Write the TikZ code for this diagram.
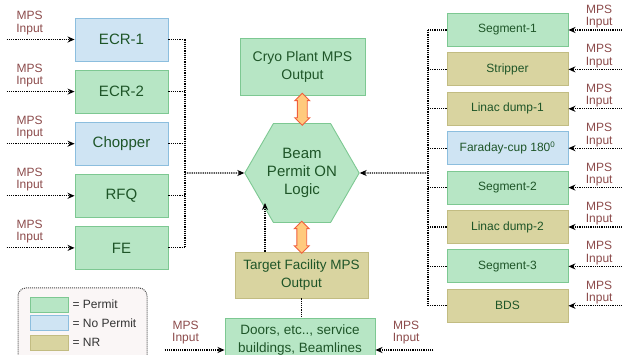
\documentclass[tikz,border=0pt]{standalone}
\usepackage{fontspec}
\setmainfont{Liberation Sans}
\usetikzlibrary{positioning, calc, shapes.geometric, shapes.arrows, arrows.meta}

\definecolor{permitFill}{RGB}{183,230,197}
\definecolor{permitLine}{RGB}{125,200,146}
\definecolor{nopermitFill}{RGB}{207,228,243}
\definecolor{nopermitLine}{RGB}{140,190,222}
\definecolor{nrFill}{RGB}{217,212,160}
\definecolor{nrLine}{RGB}{194,188,130}
\definecolor{boxText}{RGB}{30,85,40}
\definecolor{mpsText}{RGB}{140,75,75}
\definecolor{arrowFill}{RGB}{255,202,125}
\definecolor{arrowLine}{RGB}{240,95,60}
\definecolor{legendFill}{RGB}{250,246,246}

\tikzset{
  permit/.style={draw=permitLine, fill=permitFill},
  nopermit/.style={draw=nopermitLine, fill=nopermitFill},
  nr/.style={draw=nrLine, fill=nrFill},
  unit/.style={line width=0.9pt, text=boxText, align=center, inner sep=0pt},
  leftbox/.style={unit, minimum width=93pt, minimum height=43pt, font=\fontsize{15}{18}\selectfont},
  rightbox/.style={unit, minimum width=121pt, minimum height=33pt, font=\fontsize{12}{14}\selectfont},
  midbox/.style={unit, font=\fontsize{14}{18}\selectfont},
  mpsin/.style={text=mpsText, font=\fontsize{12}{12.5}\selectfont, align=center, inner sep=0pt},
  bus/.style={densely dotted, line width=1.2pt},
  feed/.style={bus, -{Stealth[length=7pt, width=6pt]}},
  bigarrow/.style={double arrow, draw=arrowLine, fill=arrowFill, line width=0.9pt,
    inner sep=4.5pt, double arrow head extend=2.5pt, minimum height=32pt, rotate=90},
  swatch/.style={line width=0.9pt, minimum width=38pt, minimum height=15pt, inner sep=0pt},
  keytext/.style={font=\fontsize{12}{14}\selectfont, text=black!80, inner sep=0pt},
}

\begin{document}
\begin{tikzpicture}[x=1pt, y=-1pt]
    \clip (0,0) rectangle (622,355);
    %
    % left column
    \node [leftbox, nopermit] (ecr1) at (121.5,39.5) {ECR-1};
    \node [leftbox, permit, below=8.2pt of ecr1] (ecr2) {ECR-2};
    \node [leftbox, nopermit, below=8.2pt of ecr2] (chopper) {Chopper};
    \node [leftbox, permit, below=8.2pt of chopper] (rfq) {RFQ};
    \node [leftbox, permit, below=8.2pt of rfq] (fe) {FE};
    %
    % centre
    \node [midbox, permit, minimum width=125pt, minimum height=57pt] (cryo) at (302.5,66.5) {Cryo Plant MPS\\Output};
    \node [unit, permit, regular polygon, regular polygon sides=6, minimum size=108pt,
      font=\fontsize{15}{18}\selectfont] (hex) at (302,173) {Beam\\Permit ON\\Logic};
    \node [midbox, nr, minimum width=133pt, minimum height=46pt,
      font=\fontsize{13.5}{18}\selectfont] (target) at (301.5,275) {Target Facility MPS\\Output};
    \node [midbox, permit, minimum width=150pt, minimum height=44pt,
      font=\fontsize{13.5}{18}\selectfont] (doors) at (300,340) {Doors, etc.., service\\buildings, Beamlines};
    %
    % right column
    \node [rightbox, permit] (seg1) at (507.5,30) {Segment-1};
    \node [rightbox, nr, below=5.5pt of seg1] (stripper) {Stripper};
    \node [rightbox, nr, below=5.5pt of stripper] (dump1) {Linac dump-1};
    \node [rightbox, nopermit, below=5.5pt of dump1] (faraday) {Faraday-cup 180\textsuperscript{0}};
    \node [rightbox, permit, below=5.5pt of faraday] (seg2) {Segment-2};
    \node [rightbox, nr, below=5.5pt of seg2] (dump2) {Linac dump-2};
    \node [rightbox, permit, below=5.5pt of dump2] (seg3) {Segment-3};
    \node [rightbox, nr, below=5.5pt of seg3] (bds) {BDS};
    %
    % buses
    \coordinate (busL) at (185,173);
    \coordinate (busR) at (428,173);
    \coordinate (tgtIn) at (265,203);
    %
    \foreach \b in {ecr1,ecr2,chopper,rfq,fe} {
      \draw [feed] ([xshift=-68pt]\b.west) -- node[mpsin, above=4pt, pos=.34] {MPS\\Input} (\b);
      \draw [bus] (\b.east) -- (\b.east -| busL);
    }
    \draw [bus] (ecr1.east -| busL) -- (fe.east -| busL);
    \draw [feed] (busL) -- (hex);
    %
    \foreach \b in {seg1,stripper,dump1,faraday,seg2,dump2,seg3,bds} {
      \draw [feed] ([xshift=54pt]\b.east) -- node[mpsin, above=1pt, pos=.43] {MPS\\Input} (\b);
      \draw [bus] (\b.west) -- (\b.west -| busR);
    }
    \draw [bus] (seg1.west -| busR) -- (bds.west -| busR);
    \draw [feed] (busR) -- (hex);
    %
    \draw [feed] (target.north -| tgtIn) -- (tgtIn);
    \draw [bus] (target.south) -- (target.south |- doors.north);
    \draw [feed] ([xshift=-60pt, yshift=-10pt]doors.west) -- node[mpsin, above=5pt, pos=.35] {MPS\\Input} ([yshift=-10pt]doors.west);
    \draw [feed] ([xshift=58pt, yshift=-10pt]doors.east) -- node[mpsin, above=5pt, pos=.47] {MPS\\Input} ([yshift=-10pt]doors.east);
    %
    \node [bigarrow] (cryoLink) at ($(cryo.south)!.5!(hex.north)$) {};
    \node [bigarrow] (targetLink) at ($(hex.south)!.5!(target.north)$) {};
    %
    % legend
    \node [draw=black!70, densely dotted, line width=1pt, fill=legendFill, rounded corners=8pt,
      minimum width=129pt, minimum height=76pt] (legend) at (82.5,326) {};
    \node [swatch, permit] (keyPermit) at (49,304.5) {};
    \node [swatch, nopermit, below=3pt of keyPermit] (keyNoPermit) {};
    \node [swatch, nr, below=3.5pt of keyNoPermit] (keyNR) {};
    \node [keytext, right=4pt of keyPermit] {= Permit};
    \node [keytext, right=4pt of keyNoPermit] {= No Permit};
    \node [keytext, right=4pt of keyNR] {= NR};
\end{tikzpicture}
\end{document}
